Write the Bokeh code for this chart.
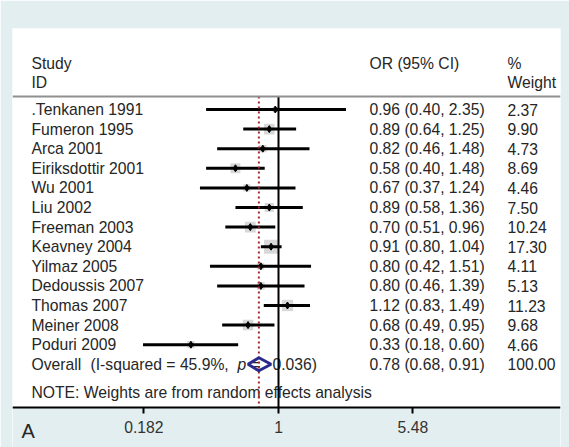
import math
from bokeh.plotting import figure
from bokeh.models import (ColumnDataSource, Range1d, FixedTicker, Span, Label,
                          BoxAnnotation)
from bokeh.embed import file_html
from bokeh.resources import INLINE
from bokeh.core.properties import value

# ---------------- data ----------------
studies = [".Tenkanen 1991", "Fumeron 1995", "Arca 2001", "Eiriksdottir 2001",
           "Wu 2001", "Liu 2002", "Freeman 2003", "Keavney 2004", "Yilmaz 2005",
           "Dedoussis 2007", "Thomas 2007", "Meiner 2008", "Poduri 2009"]
or_est = [0.96, 0.89, 0.82, 0.58, 0.67, 0.89, 0.70, 0.91, 0.80, 0.80, 1.12, 0.68, 0.33]
ci_low = [0.40, 0.64, 0.46, 0.40, 0.37, 0.58, 0.51, 0.80, 0.42, 0.46, 0.83, 0.49, 0.18]
ci_high = [2.35, 1.25, 1.48, 0.84, 1.24, 1.36, 0.96, 1.04, 1.51, 1.39, 1.49, 0.95, 0.60]
or_labels = ["0.96 (0.40, 2.35)", "0.89 (0.64, 1.25)", "0.82 (0.46, 1.48)",
             "0.58 (0.40, 1.48)", "0.67 (0.37, 1.24)", "0.89 (0.58, 1.36)",
             "0.70 (0.51, 0.96)", "0.91 (0.80, 1.04)", "0.80 (0.42, 1.51)",
             "0.80 (0.46, 1.39)", "1.12 (0.83, 1.49)", "0.68 (0.49, 0.95)",
             "0.33 (0.18, 0.60)"]
weights = [2.37, 9.90, 4.73, 8.69, 4.46, 7.50, 10.24, 17.30, 4.11, 5.13, 11.23, 9.68, 4.66]

overall_or = 0.78
overall_low = 0.68
overall_high = 0.91
overall_label = "0.78 (0.68, 0.91)"
overall_weight = 100.00
i_squared = "45.9%"
p_value = "0.036"

tick_values = [0.182, 1, 5.48]
tick_labels = ["0.182", "1", "5.48"]

# ---------------- layout helpers (picture pixels -> data) ----------------
X1_PX = 278.0      # x of OR = 1
PX_PER_LN = 79.0   # pixels per unit of ln(OR)
ROW0_PX = 109.0    # y of first study row
ROW_PX = 19.6      # row pitch
W, H = 569, 447
FRAME_L, FRAME_R, FRAME_T = 12, 560, 28
AXIS_PX = 407


def px2x(s):
    return math.exp((s - X1_PX) / PX_PER_LN)


def py2y(s):
    return (ROW0_PX - s) / ROW_PX


FONT_NAME = "Liberation Sans"
FONT = value(FONT_NAME)
FS = "15.7px"
TXT = "#262626"
BLUE = "#e2eef0"

n = len(studies)
rows = [-i for i in range(n)]
overall_y = -n
axis_y = py2y(AXIS_PX)

p = figure(width=W, height=H, x_axis_type="log",
           x_range=Range1d(px2x(FRAME_L), px2x(FRAME_R)),
           y_range=Range1d(py2y(H), py2y(FRAME_T)),
           y_axis_location=None, output_backend="svg", toolbar_location=None,
           min_border_left=FRAME_L, min_border_right=W - FRAME_R,
           min_border_top=FRAME_T, min_border_bottom=0)
p.background_fill_color = "white"
p.border_fill_color = BLUE
p.outline_line_color = None
p.xgrid.visible = False
p.ygrid.visible = False

# area below the axis has the tinted background
p.add_layout(BoxAnnotation(top=axis_y, fill_color=BLUE, fill_alpha=1,
                           line_color=None, level="underlay"))

# x axis (fixed at the bottom of the forest)
ax = p.xaxis[0]
ax.fixed_location = axis_y
ax.ticker = FixedTicker(ticks=tick_values, minor_ticks=[])
ax.major_label_overrides = {v: t for v, t in zip(tick_values, tick_labels)}
ax.axis_line_color = "black"
ax.axis_line_width = 2
ax.major_tick_line_color = "black"
ax.major_tick_line_width = 2
ax.major_tick_out = 6
ax.major_tick_in = 0
ax.minor_tick_line_color = None
ax.major_label_text_font = FONT_NAME
ax.major_label_text_font_size = FS
ax.major_label_text_color = "#333333"
ax.major_label_standoff = 7

# header
hdr1 = py2y(63)
hdr2 = py2y(82)
hdr_line = py2y(96)
x_study = px2x(31)
x_or = px2x(369)
x_wt = px2x(507)

text_kw = dict(text_font=FONT, text_font_size=FS, text_color=TXT,
               text_align="left", text_baseline="middle")

p.text(x=[x_study, x_study, x_or, x_wt, x_wt],
       y=[hdr1, hdr2, hdr1, hdr1, hdr2],
       text=["Study", "ID", "OR (95% CI)", "%", "Weight"], **text_kw)

p.add_layout(Span(location=hdr_line, dimension="width", line_color="#8f8f8f",
                  line_width=2))

# row texts
src = ColumnDataSource(dict(
    y=rows, study=studies, orl=or_labels, wt=[f"{w:.2f}" for w in weights],
    xs=[x_study] * n, xo=[x_or] * n, xw=[x_wt] * n,
    est=or_est, lo=ci_low, hi=ci_high,
    box=[14.0 * math.sqrt(w / max(weights)) for w in weights]))

p.text(x="xs", y="y", text="study", source=src, **text_kw)
p.text(x="xo", y="y", text="orl", source=src, **text_kw)
p.text(x="xw", y="y", text="wt", source=src, **text_kw)

# overall row text
p.text(x=[x_study], y=[overall_y], text=["Overall"], **text_kw)
p.text(x=[px2x(90)], y=[overall_y], text=[f"(I-squared = {i_squared},"], **text_kw)
p.text(x=[px2x(237)], y=[overall_y], text=["p"], text_font_style="italic", **text_kw)
p.text(x=[px2x(251)], y=[overall_y], text=["="], **text_kw)
p.text(x=[px2x(272)], y=[overall_y], text=[f"{p_value})"], **text_kw)
p.text(x=[x_or], y=[overall_y], text=[overall_label], **text_kw)
p.text(x=[x_wt], y=[overall_y], text=[f"{overall_weight:.2f}"], **text_kw)

# note
p.text(x=[x_study], y=[py2y(392)],
       text=["NOTE: Weights are from random effects analysis"], **text_kw)

# weight boxes
p.scatter(x="est", y="y", size="box", marker="square", source=src,
          fill_color="#c8c8c8", fill_alpha=0.7, line_color=None)

# CI lines
p.segment(x0="lo", y0="y", x1="hi", y1="y", source=src,
          line_color="black", line_width=3)

# point estimates
p.scatter(x="est", y="y", size=7, marker="diamond", source=src,
          fill_color="black", line_color="black")

# reference lines
p.segment(x0=[1], y0=[hdr_line], x1=[1], y1=[axis_y],
          line_color="black", line_width=2)
p.segment(x0=[overall_or], y0=[hdr_line], x1=[overall_or], y1=[axis_y],
          line_color="#a8262a", line_width=2, line_dash="2 3")

# overall diamond
h = 6.5 / ROW_PX
p.patch(x=[overall_low, overall_or, overall_high, overall_or],
        y=[overall_y, overall_y + h, overall_y, overall_y - h],
        fill_alpha=0, line_color="#2a2a8e", line_width=3)

# panel letter
p.add_layout(Label(x=px2x(21), y=py2y(430), text="A", text_font=FONT_NAME,
                   text_font_size="20px", text_color=TXT,
                   text_baseline="middle", text_align="left"))

open("out.html", "w").write(file_html(p, INLINE))
